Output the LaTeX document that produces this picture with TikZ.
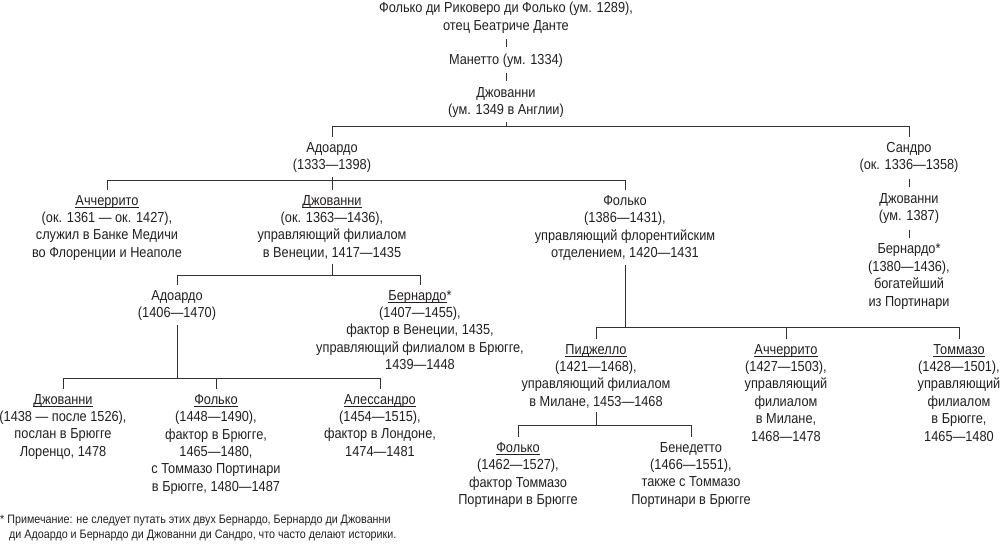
\documentclass[tikz,border=0pt]{standalone}
\usepackage{fontspec}
\setmainfont{Liberation Sans}[FakeStretch=0.88]
\usepackage{tikz}
\usetikzlibrary{positioning}
\definecolor{inkColor}{RGB}{35, 31, 32}
\definecolor{lineColor}{RGB}{50, 50, 50}
\newcommand{\nameline}[1]{\setbox0\hbox{#1}\rlap{\rule[-2.2pt]{\wd0}{0.7pt}}\box0}
\tikzset{
    person_node/.style={
        align=center,
        anchor=north,
        inner sep=2pt,
        text=inkColor,
        font=\fontsize{14.5}{17.4}\selectfont
    },
    note_node/.style={
        align=left,
        anchor=north west,
        inner sep=0pt,
        text=inkColor,
        font=\fontsize{12.2}{15}\selectfont
    },
    chain_edge/.style={
        draw=lineColor,
        line width=0.8pt,
        shorten <=4pt,
        shorten >=4pt
    },
    stem_edge/.style={
        draw=lineColor,
        line width=0.8pt,
        shorten <=2pt
    },
    drop_edge/.style={
        draw=lineColor,
        line width=0.8pt,
        shorten >=3pt
    },
    bar_edge/.style={
        draw=lineColor,
        line width=0.8pt,
        line cap=rect
    }
}

\begin{document}
\begin{tikzpicture}[x=1pt, y=-1pt, node distance=16pt]
    \useasboundingbox (0,0) rectangle (1001,545);

    % Portinari line
    \node[person_node] (folko0) at (506,0) {Фолько ди Риковеро ди Фолько (ум. 1289),\\отец Беатриче Данте};
    \node[person_node, below=of folko0] (manetto) {Манетто (ум. 1334)};
    \node[person_node, below=of manetto] (giov1) {Джованни\\(ум. 1349 в Англии)};

    \node[person_node] (adoardo1) at (332,140) {Адоардо\\(1333—1398)};
    \node[person_node] (sandro) at (909,140) {Сандро\\(ок. 1336—1358)};
    \node[person_node, below=of sandro] (giovS) {Джованни\\(ум. 1387)};
    \node[person_node, below=of giovS] (bernS) {Бернардо*\\(1380—1436),\\богатейший\\из Портинари};

    \node[person_node] (acch1) at (107,193) {\nameline{Аччеррито}\\(ок. 1361 — ок. 1427),\\служил в Банке Медичи\\во Флоренции и Неаполе};
    \node[person_node] (giov2) at (332,193) {\nameline{Джованни}\\(ок. 1363—1436),\\управляющий филиалом\\в Венеции, 1417—1435};
    \node[person_node] (folko2) at (625,193) {Фолько\\(1386—1431),\\управляющий флорентийским\\отделением, 1420—1431};

    \node[person_node] (adoardo2) at (177,288) {Адоардо\\(1406—1470)};
    \node[person_node] (bern2) at (420,288) {\nameline{Бернардо}*\\(1407—1455),\\фактор в Венеции, 1435,\\управляющий филиалом в Брюгге,\\1439—1448};

    \node[person_node] (pidj) at (596,342) {\nameline{Пиджелло}\\(1421—1468),\\управляющий филиалом\\в Милане, 1453—1468};
    \node[person_node] (acch2) at (786,342) {\nameline{Аччеррито}\\(1427—1503),\\управляющий\\филиалом\\в Милане,\\1468—1478};
    \node[person_node] (tommaso) at (959,342) {\nameline{Томмазо}\\(1428—1501),\\управляющий\\филиалом\\в Брюгге,\\1465—1480};

    \node[person_node] (giov3) at (63,392) {\nameline{Джованни}\\(1438 — после 1526),\\послан в Брюгге\\Лоренцо, 1478};
    \node[person_node] (folko3) at (216,392) {\nameline{Фолько}\\(1448—1490),\\фактор в Брюгге,\\1465—1480,\\с Томмазо Портинари\\в Брюгге, 1480—1487};
    \node[person_node] (aless) at (380,392) {\nameline{Алессандро}\\(1454—1515),\\фактор в Лондоне,\\1474—1481};

    \node[person_node] (folko4) at (518,440) {\nameline{Фолько}\\(1462—1527),\\фактор Томмазо\\Портинари в Брюгге};
    \node[person_node] (bened) at (691,440) {Бенедетто\\(1466—1551),\\также с Томмазо\\Портинари в Брюгге};

    \node[note_node] (note) at (0,515) {*\hspace{3pt}Примечание: не следует путать этих двух Бернардо, Бернардо ди Джованни\\\hspace*{9pt}ди Адоардо и Бернардо ди Джованни ди Сандро, что часто делают историки.};

    % bars of each family
    \coordinate (bar_a) at (0,126);
    \coordinate (bar_b) at (0,180);
    \coordinate (bar_c) at (0,275);
    \coordinate (bar_d) at (0,327);
    \coordinate (bar_e) at (0,378);
    \coordinate (bar_f) at (0,425);

    % single lines
    \draw[chain_edge] (folko0) -- (manetto);
    \draw[chain_edge] (manetto) -- (giov1);
    \draw[chain_edge] (sandro) -- (giovS);
    \draw[chain_edge] (giovS) -- (bernS);

    % Giovanni's sons
    \draw[stem_edge] (giov1.south) -- (bar_a -| giov1);
    \draw[bar_edge] (bar_a -| adoardo1) -- (bar_a -| sandro);
    \draw[drop_edge] (bar_a -| adoardo1) -- (adoardo1.north);
    \draw[drop_edge] (bar_a -| sandro) -- (sandro.north);

    % Adoardo's sons
    \draw[stem_edge] (adoardo1.south) -- (bar_b -| adoardo1);
    \draw[bar_edge] (bar_b -| acch1) -- (bar_b -| folko2);
    \draw[drop_edge] (bar_b -| acch1) -- (acch1.north);
    \draw[drop_edge] (bar_b -| giov2) -- (giov2.north);
    \draw[drop_edge] (bar_b -| folko2) -- (folko2.north);

    % Giovanni's sons
    \draw[stem_edge] (giov2.south) -- (bar_c -| giov2);
    \draw[bar_edge] (bar_c -| adoardo2) -- (bar_c -| bern2);
    \draw[drop_edge] (bar_c -| adoardo2) -- (adoardo2.north);
    \draw[drop_edge] (bar_c -| bern2) -- (bern2.north);

    % Folco's sons
    \draw[stem_edge] (folko2.south) -- (bar_d -| folko2);
    \draw[bar_edge] (bar_d -| pidj) -- (bar_d -| tommaso);
    \draw[drop_edge] (bar_d -| pidj) -- (pidj.north);
    \draw[drop_edge] (bar_d -| acch2) -- (acch2.north);
    \draw[drop_edge] (bar_d -| tommaso) -- (tommaso.north);

    % Adoardo's sons
    \draw[stem_edge] (adoardo2.south) -- (bar_e -| adoardo2);
    \draw[bar_edge] (bar_e -| giov3) -- (bar_e -| aless);
    \draw[drop_edge] (bar_e -| giov3) -- (giov3.north);
    \draw[drop_edge] (bar_e -| folko3) -- (folko3.north);
    \draw[drop_edge] (bar_e -| aless) -- (aless.north);

    % Pigello's sons
    \draw[stem_edge] (pidj.south) -- (bar_f -| pidj);
    \draw[bar_edge] (bar_f -| folko4) -- (bar_f -| bened);
    \draw[drop_edge] (bar_f -| folko4) -- (folko4.north);
    \draw[drop_edge] (bar_f -| bened) -- (bened.north);
\end{tikzpicture}
\end{document}
